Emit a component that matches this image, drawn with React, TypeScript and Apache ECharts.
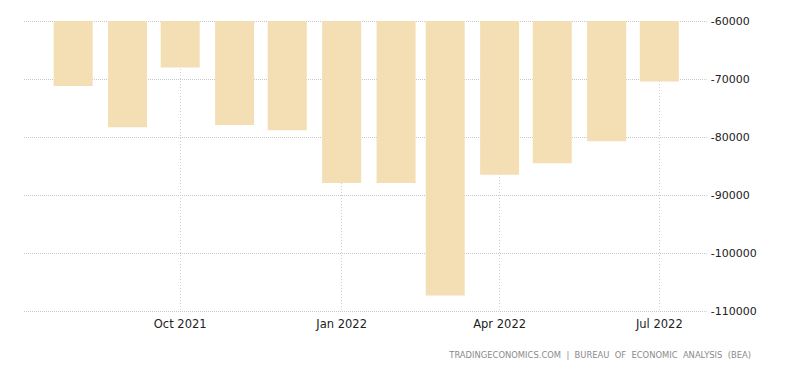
import React, { useEffect, useRef } from "react";
import * as echarts from "echarts";

const months = [
  "2021-08-01", "2021-09-01", "2021-10-01", "2021-11-01", "2021-12-01", "2022-01-01",
  "2022-02-01", "2022-03-01", "2022-04-01", "2022-05-01", "2022-06-01", "2022-07-01",
];
const balance = [
  -71200, -78300, -68000, -77900, -78800, -87900,
  -87900, -107300, -86500, -84500, -80700, -70400,
];
const tickDates = ["2021-10-01", "2022-01-01", "2022-04-01", "2022-07-01"];
const tickLabels = ["Oct 2021", "Jan 2022", "Apr 2022", "Jul 2022"];
const axisStart = "2021-07-04";
const axisEnd = "2022-07-28";
const sourceText = "TRADINGECONOMICS.COM  |  BUREAU  OF  ECONOMIC  ANALYSIS  (BEA)";

const ts = (d: string) => new Date(d + "T00:00:00Z").getTime();

export default function App() {
  const ref = useRef<HTMLDivElement>(null);
  useEffect(() => {
    if (!ref.current) return;
    const chart = echarts.init(ref.current, undefined, { renderer: "svg" });
    const tickTs = tickDates.map(ts);
    const font = "'DejaVu Sans', Verdana, sans-serif";
    chart.setOption({
      animation: false,
      backgroundColor: "#ffffff",
      grid: { left: 24, right: 93.3, top: 21, bottom: 61.7, containLabel: false },
      xAxis: {
        type: "value",
        min: ts(axisStart),
        max: ts(axisEnd),
        axisLine: { show: false },
        axisTick: { show: false, customValues: tickTs },
        axisLabel: {
          customValues: tickTs,
          margin: 7,
          color: "#222222",
          fontSize: 11.5,
          fontFamily: font,
          formatter: (v: number) => {
            const i = tickTs.indexOf(v);
            return i >= 0 ? tickLabels[i] : "";
          },
        },
        splitLine: {
          show: true,
          lineStyle: { color: "#d0d0d0", type: [1, 2], width: 1 },
        },
      },
      yAxis: {
        type: "value",
        position: "right",
        min: -110000,
        max: -60000,
        interval: 10000,
        axisLine: { show: false },
        axisTick: { show: false },
        axisLabel: {
          margin: 4,
          color: "#222222",
          fontSize: 11,
          fontFamily: font,
          formatter: (v: number) => String(v),
        },
        splitLine: {
          show: true,
          lineStyle: { color: "#c8c8c8", type: [1, 1], width: 1 },
        },
      },
      series: [
        {
          type: "bar",
          data: months.map((m, i) => [ts(m), balance[i]]),
          barWidth: 39,
          clip: true,
          itemStyle: { color: "#F4DEB3" },
        },
      ],
      graphic: [
        {
          type: "text",
          right: 49,
          top: 351,
          style: {
            text: sourceText,
            fill: "#8a8a8a",
            font: "8.4px 'DejaVu Sans', Verdana, sans-serif",
          },
        },
      ],
    });
    return () => chart.dispose();
  }, []);
  return (
    <div
      ref={ref}
      style={{ position: "fixed", left: 0, top: 0, width: 800, height: 373 }}
    />
  );
}
